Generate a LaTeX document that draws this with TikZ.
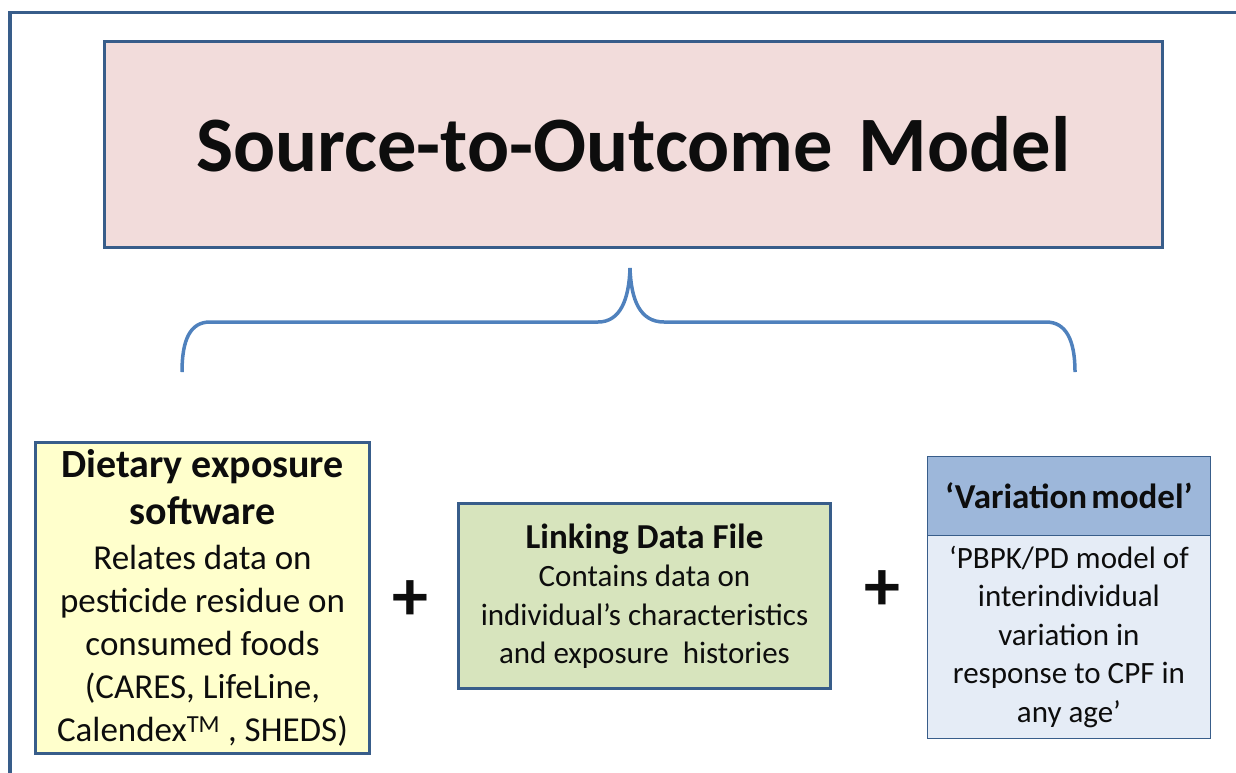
\documentclass[tikz,border=0pt]{standalone}
\usepackage{fontspec}
\setmainfont{Carlito}
\definecolor{frameblue}{HTML}{385D8A}
\definecolor{braceblue}{HTML}{4F81BD}
\definecolor{titlefill}{HTML}{F2DCDB}
\definecolor{yellowfill}{HTML}{FFFFCC}
\definecolor{greenfill}{HTML}{D7E4BD}
\definecolor{headfill}{HTML}{9DB7DA}
\definecolor{bodyfill}{HTML}{E5ECF6}
\definecolor{ink}{HTML}{0D0D0D}
\tikzset{
  box/.style={draw=frameblue, line width=3pt, inner sep=0pt, align=center, anchor=north west, text=ink},
  thinbox/.style={draw=frameblue, line width=0.8pt, inner sep=0pt, align=center, anchor=north west, text=ink},
  bodytext/.style={font=\fontsize{35}{43}\selectfont},
  midtext/.style={font=\fontsize{31}{38.5}\selectfont},
  plus/.style={font=\fontsize{72}{72}\selectfont\bfseries, inner sep=0pt, text=ink},
}
\newcommand\bighead[1]{{\fontsize{40}{43}\selectfont\bfseries #1}}
\newcommand\midhead[1]{{\fontsize{35}{38.5}\selectfont\bfseries #1}}
\begin{document}
\begin{tikzpicture}[x=1pt,y=-1pt]
\useasboundingbox (0,0) rectangle (1236,772);

% outer frame, open to the right and bottom
\draw[frameblue, line width=3.5pt] (10,790) -- (10,12.5) -- (1250,12.5);

% title box
\node[box, fill=titlefill, minimum width=1058pt, minimum height=206pt,
      font=\fontsize{78.5}{80}\selectfont\bfseries] (title) at (103,40)
  {Source-to-Outcome\hspace{0.33em}Model};

% curly brace gathering the three components
\draw[braceblue, line width=3.5pt]
  (182,372) .. controls (182,340) and (190,322) .. (210,322)
  -- (598,322) .. controls (620,322) and (629,300) .. (630,268)
  .. controls (631,300) and (640,322) .. (664,322)
  -- (1046,322) .. controls (1066,322) and (1075,340) .. (1075,372);

% dietary exposure software
\node[box, fill=yellowfill, minimum width=334pt, minimum height=311pt, bodytext] (diet) at (34,441)
  {\bighead{Dietary exposure}\\[4pt]\bighead{software}\\[2pt]Relates data on\\pesticide residue on\\consumed foods\\(CARES, LifeLine,\\Calendex\textsuperscript{TM} , SHEDS)};

\node[plus] (plusA) at (410,601) {+};

% linking data file
\node[box, fill=greenfill, minimum width=372pt, minimum height=185pt, midtext] (link) at (457,502)
  {\midhead{Linking Data File}\\Contains data on\\individual’s characteristics\\and exposure\ \ histories};

\node[plus] (plusB) at (882,591) {+};

% variation model: header and body
\node[thinbox, fill=headfill, minimum width=283pt, minimum height=79pt,
      font=\fontsize{35}{38}\selectfont\bfseries] (varhead) at (927,456)
  {‘Variation\hspace{0.12em}model’};
\node[thinbox, fill=bodyfill, minimum width=283pt, minimum height=203pt, midtext] (varbody) at (927,535)
  {‘PBPK/PD model of\\interindividual\\variation in\\response to CPF in\\any age’};
\end{tikzpicture}
\end{document}
